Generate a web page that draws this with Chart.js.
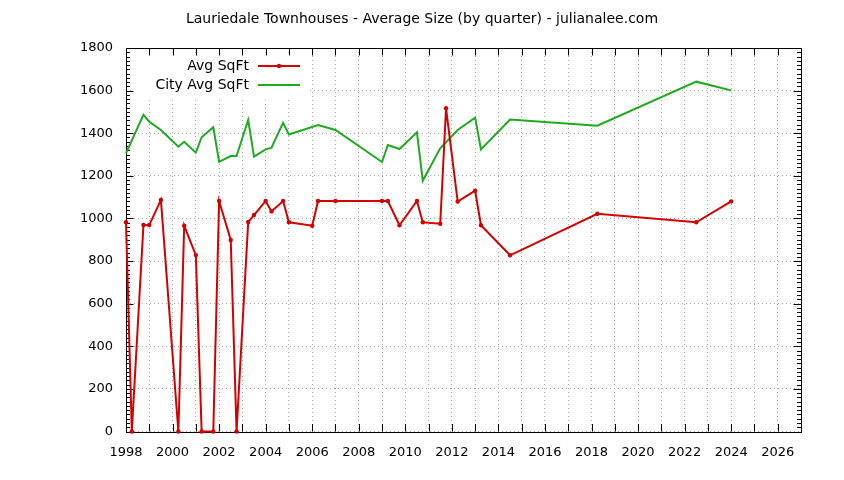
<!DOCTYPE html>
<html>
<head>
<meta charset="utf-8">
<script src="https://cdn.jsdelivr.net/npm/chart.js@4.4.0/dist/chart.umd.min.js"></script>
<style>
  html, body { margin: 0; padding: 0; background: #fff; }
  #wrap { width: 844px; height: 480px; }
</style>
</head>
<body>
<div id="wrap"><canvas id="chart" width="844" height="480"></canvas></div>
<script>
// ============ DATA ============
const chartTitle = "Lauriedale Townhouses - Average Size (by quarter) - julianalee.com";
const seriesNames = ["Avg SqFt", "City Avg SqFt"];

// Lauriedale townhouses, one point per quarter with sales
const avgYears = [1998.0, 1998.25, 1998.75, 1999.0, 1999.5, 2000.25, 2000.5, 2001.0, 2001.25, 2001.75,
  2002.0, 2002.5, 2002.75, 2003.25, 2003.5, 2004.0, 2004.25, 2004.75, 2005.0, 2006.0,
  2006.25, 2007.0, 2009.0, 2009.25, 2009.75, 2010.5, 2010.75, 2011.5, 2011.75, 2012.25,
  2013.0, 2013.25, 2014.5, 2018.25, 2022.5, 2024.0];
const avgSqft = [982, 0, 969, 969, 1087, 0, 966, 828, 0, 0,
  1082, 899, 0, 983, 1016, 1082, 1033, 1082, 982, 966,
  1082, 1082, 1082, 1082, 968, 1082, 982, 975, 1517, 1079,
  1130, 968, 827, 1022, 982, 1080];

// city wide average
const cityYears = [1998.0, 1998.75, 1999.0, 1999.5, 2000.25, 2000.5, 2001.0, 2001.25, 2001.75, 2002.0,
  2002.5, 2002.75, 2003.25, 2003.5, 2004.0, 2004.25, 2004.75, 2005.0, 2006.25, 2007.0,
  2009.0, 2009.25, 2009.75, 2010.5, 2010.75, 2011.5, 2012.25, 2013.0, 2013.25, 2014.5,
  2018.25, 2022.5, 2024.0];
const citySqft = [1306, 1486, 1454, 1415, 1337, 1360, 1309, 1381, 1428, 1266,
  1293, 1293, 1462, 1290, 1324, 1332, 1449, 1394, 1438, 1415,
  1265, 1345, 1326, 1404, 1177, 1329, 1415, 1473, 1324, 1464,
  1435, 1642, 1601];

const xLabelYears = [1998, 2000, 2002, 2004, 2006, 2008, 2010, 2012, 2014, 2016, 2018, 2020, 2022, 2024, 2026];
const yTicks = [0, 200, 400, 600, 800, 1000, 1200, 1400, 1600, 1800];

const RED = "#d40000";
const GREEN = "#1faa1f";
const GRID = "#a8a8a8";

// one tick per year between the axis ends
const yearTicks = [];
for (let y = 1998; y <= 2027; y++) yearTicks.push(y);

const pts = (xs, ys) => xs.map((x, i) => ({ x, y: ys[i] }));

Chart.defaults.font.family = "'DejaVu Sans', sans-serif";
Chart.defaults.font.size = 13;
Chart.defaults.color = "#000";

// ============ FRAME + INWARD TICKS + KEY ============
const framePlugin = {
  id: "frame",
  beforeDatasetsDraw(chart) {
    const { ctx, chartArea: a, scales } = chart;
    ctx.save();

    // key box hides the grid behind it
    ctx.fillStyle = "#fff";
    ctx.fillRect(131, 56, 176, 41);

    ctx.strokeStyle = "#000";
    ctx.lineWidth = 1;
    ctx.beginPath();
    yearTicks.forEach((v) => {
      const x = Math.round(scales.x.getPixelForValue(v)) + 0.5;
      ctx.moveTo(x, a.bottom); ctx.lineTo(x, a.bottom - 7.5);
      ctx.moveTo(x, a.top); ctx.lineTo(x, a.top + 7.5);
    });
    for (let v = 0; v <= 1800; v += 20) {
      const y = Math.round(scales.y.getPixelForValue(v)) + 0.5;
      const len = v % 200 === 0 ? 7.5 : 4;
      ctx.moveTo(a.left, y); ctx.lineTo(a.left + len, y);
      ctx.moveTo(a.right, y); ctx.lineTo(a.right - len, y);
    }
    ctx.stroke();
    ctx.strokeRect(Math.round(a.left) + 0.5, Math.round(a.top) + 0.5,
      Math.round(a.right - a.left), Math.round(a.bottom - a.top));

    // key
    const rows = [
      { label: seriesNames[0], color: RED, dot: true, y: 66 },
      { label: seriesNames[1], color: GREEN, dot: false, y: 85 }
    ];
    ctx.font = "14px 'DejaVu Sans', sans-serif";
    ctx.textAlign = "right";
    ctx.textBaseline = "middle";
    rows.forEach((r) => {
      ctx.fillStyle = "#000";
      ctx.fillText(r.label, 249, r.y);
      ctx.strokeStyle = r.color;
      ctx.lineWidth = 2;
      ctx.beginPath();
      ctx.moveTo(258, r.y); ctx.lineTo(300, r.y);
      ctx.stroke();
      if (r.dot) {
        ctx.fillStyle = r.color;
        ctx.beginPath();
        ctx.arc(279, r.y, 2.2, 0, Math.PI * 2);
        ctx.fill();
      }
    });
    ctx.restore();
  }
};

// ============ CHART ============
const ctx = document.getElementById("chart").getContext("2d");
new Chart(ctx, {
  type: "line",
  data: {
    datasets: [
      {
        label: seriesNames[0],
        data: pts(avgYears, avgSqft),
        borderColor: RED,
        backgroundColor: RED,
        borderWidth: 2,
        pointRadius: 2.2,
        pointBorderWidth: 0,
        tension: 0,
        clip: false
      },
      {
        label: seriesNames[1],
        data: pts(cityYears, citySqft),
        borderColor: GREEN,
        borderWidth: 2,
        pointRadius: 0,
        tension: 0,
        clip: false
      }
    ]
  },
  options: {
    responsive: false,
    animation: false,
    events: [],
    layout: { padding: 0 },
    plugins: {
      legend: { display: false },
      tooltip: { enabled: false },
      title: {
        display: true,
        text: chartTitle,
        color: "#000",
        font: { size: 14, weight: "normal" },
        padding: { top: 11, bottom: 20.2 }
      }
    },
    scales: {
      x: {
        type: "linear",
        min: 1998,
        max: 2027,
        afterBuildTicks: (s) => { s.ticks = yearTicks.map((v) => ({ value: v })); },
        afterFit: (s) => { s.height = 48.5; },
        ticks: {
          autoSkip: false,
          maxRotation: 0,
          padding: 13,
          callback: (v) => (xLabelYears.includes(v) ? String(v) : "")
        },
        grid: { color: GRID, lineWidth: 1, drawTicks: false },
        border: { display: false, dash: [1, 3] }
      },
      y: {
        min: 0,
        max: 1800,
        afterBuildTicks: (s) => { s.ticks = yTicks.map((v) => ({ value: v })); },
        afterFit: (s) => { s.width = 126; },
        ticks: { padding: 13, callback: (v) => String(v) },
        grid: { color: GRID, lineWidth: 1, drawTicks: false },
        border: { display: false, dash: [1, 3] }
      },
      // empty right axis, only keeps the right margin
      yRight: {
        position: "right",
        min: 0,
        max: 1800,
        afterFit: (s) => { s.width = 43; },
        ticks: { display: false },
        grid: { display: false, drawTicks: false },
        border: { display: false }
      }
    }
  },
  plugins: [framePlugin]
});
</script>
</body>
</html>
